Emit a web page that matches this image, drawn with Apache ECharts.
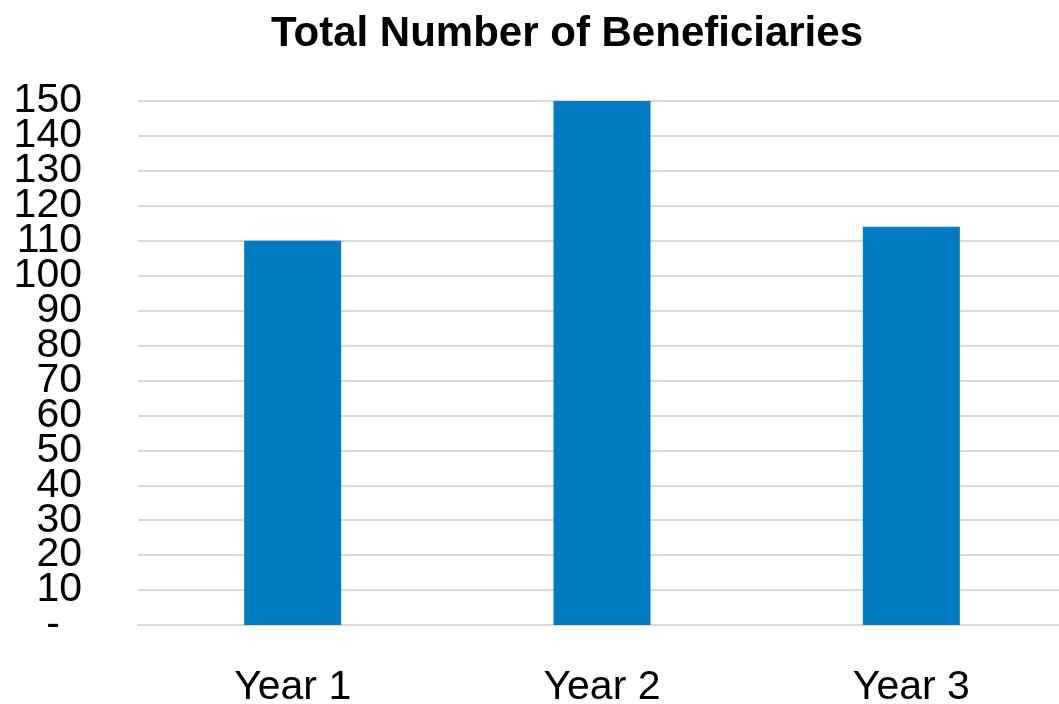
<!DOCTYPE html>
<html>
<head>
<meta charset="utf-8">
<script src="https://cdn.jsdelivr.net/npm/echarts@6/dist/echarts.min.js"></script>
<style>
html,body{margin:0;padding:0;background:#fff;}
#chart{width:1059px;height:704px;}
</style>
</head>
<body>
<div id="chart"></div>
<script>
const titleText = 'Total Number of Beneficiaries';
const categories = ['Year 1', 'Year 2', 'Year 3'];
const beneficiaries = [110, 150, 114];
const yTicks = { min: 0, max: 150, interval: 10 };

const labelFont = { fontFamily: 'Liberation Sans', fontSize: 41, color: '#000' };
function fmt(v) { return v === 0 ? '{d|-}' : String(v); }
const rich = { d: { fontFamily: 'Liberation Sans', fontSize: 41, color: '#000', padding: [0, 22, 0, 0] } };

const chart = echarts.init(document.getElementById('chart'));
chart.setOption({
  animation: false,
  backgroundColor: '#ffffff',
  title: {
    text: titleText,
    left: 562,
    top: 8,
    textAlign: 'center',
    textStyle: { fontFamily: 'Liberation Sans', fontWeight: 'bold', fontSize: 42, color: '#000' }
  },
  grid: { left: 138, top: 101, width: 928, bottom: 79, containLabel: false, outerBoundsMode: 'none' },
  xAxis: {
    type: 'category',
    data: categories,
    boundaryGap: true,
    axisLine: { show: true, lineStyle: { color: '#d9d9d9', width: 2 } },
    axisTick: { show: false },
    axisLabel: Object.assign({ margin: 42, hideOverlap: false }, labelFont)
  },
  yAxis: [{
    type: 'value',
    min: yTicks.min,
    max: yTicks.max,
    interval: yTicks.interval,
    axisLine: { show: false },
    axisTick: { show: false },
    splitLine: { lineStyle: { color: '#d9d9d9', width: 2 } },
    axisLabel: Object.assign({
      margin: 56, hideOverlap: false,
      showMinLabel: false, showMaxLabel: false,
      formatter: fmt, rich: rich
    }, labelFont)
  }, {
    type: 'value',
    position: 'left',
    offset: 0,
    min: yTicks.min,
    max: yTicks.max,
    interval: yTicks.max - yTicks.min,
    axisLine: { show: false },
    axisTick: { show: false },
    splitLine: { show: false },
    axisLabel: Object.assign({
      margin: 56, hideOverlap: false,
      formatter: fmt, rich: rich
    }, labelFont)
  }],
  series: [{
    type: 'bar',
    data: beneficiaries,
    barWidth: 97,
    yAxisIndex: 0,
    itemStyle: { color: '#017bc2' }
  }]
});
</script>
</body>
</html>
